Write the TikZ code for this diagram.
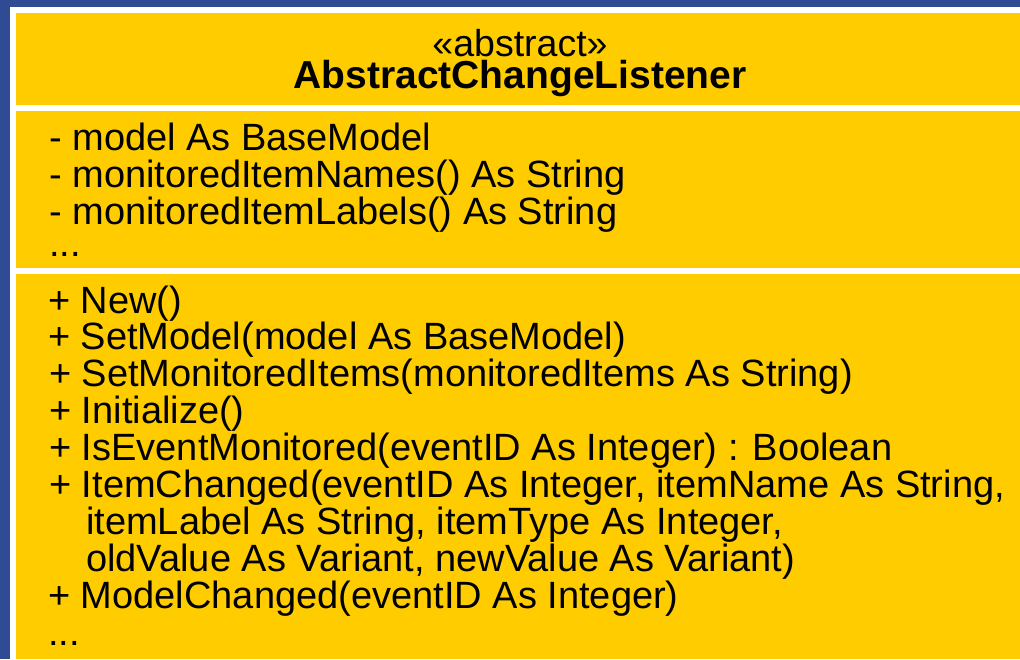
\documentclass[tikz,border=0pt]{standalone}
\usepackage{fontspec}
\setmainfont{Liberation Sans}
\usetikzlibrary{positioning}
\definecolor{slideblue}{HTML}{2F4B94}
\definecolor{umlyellow}{HTML}{FFCC00}

\begin{document}
\begin{tikzpicture}[
        x=1pt, y=-1pt,
        compartment/.style={fill=umlyellow, draw=none},
        member/.style={anchor=base west, inner sep=0pt, font=\fontsize{38}{38}\selectfont},
        title/.style={anchor=base, inner sep=0pt, font=\fontsize{37.5}{37.5}\selectfont}
    ]
        \useasboundingbox (0,0) rectangle (1020,659);

        % Slide background and class frame
        \fill[slideblue] (0,0) rectangle (1020,659);
        \fill[white] (10,7) rectangle (1020,659);
        \fill[compartment] (16,13) rectangle (1020,105);
        \fill[compartment] (16,111) rectangle (1020,268);
        \fill[compartment] (16,274) rectangle (1020,659);

        % Name compartment
        \node[title] (stereo) at (520,56) {«abstract»};
        \node[title, font=\fontsize{39}{39}\selectfont\bfseries] (classname) at (520,88) {AbstractChangeListener};

        % Attributes
        \foreach \i/\txt in {1/{- model As BaseModel},
                             2/{- monitoredItemNames() As String},
                             3/{- monitoredItemLabels() As String},
                             4/{...}}
            \node[member] (attr\i) at (49,{150+37*(\i-1)-(\i==4)*5}) {\txt};

        % Operations
        \foreach \i/\x/\txt in {1/48/{+ New()},
                                2/48/{+ SetModel(model As BaseModel)},
                                3/49/{+ SetMonitoredItems(monitoredItems As String)},
                                4/49/{+ Initialize()},
                                5/49/{+ IsEventMonitored(eventID As Integer) : Boolean},
                                6/49/{+ ItemChanged(eventID As Integer, itemName As String,},
                                7/86/{itemLabel As String, itemType As Integer,},
                                8/86/{oldValue As Variant, newValue As Variant)},
                                9/48/{+ ModelChanged(eventID As Integer)},
                                10/48/{...}}
            \node[member] (op\i) at (\x,{313+36.9*(\i-1)}) {\txt};
    \end{tikzpicture}
\end{document}
